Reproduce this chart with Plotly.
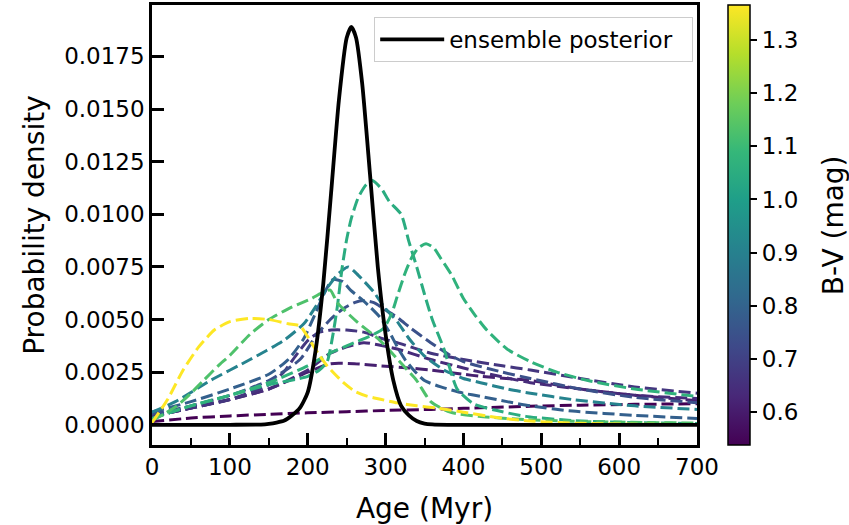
import plotly.graph_objects as go
from plotly.colors import sample_colorscale

# ---------------- data ----------------
BV_MIN, BV_MAX = 0.538, 1.366

ens_age = [0, 100, 140, 150, 160, 170, 180, 190, 200, 210, 220, 230, 240, 250, 256, 262,
           270, 280, 290, 300, 310, 320, 330, 340, 350, 360, 380, 400, 700]
ens_pdf = [0, 0, 0.00001, 0.00004, 0.0001, 0.0002, 0.00045, 0.0008, 0.00154, 0.0035, 0.0067,
           0.0110, 0.0154, 0.01837, 0.0189, 0.0184, 0.0162, 0.0119, 0.0075, 0.0043, 0.0021,
           0.0009, 0.00045, 0.00018, 0.00006, 0.00002, 0.0, 0.0, 0.0]

star_bv = [0.538, 0.61, 0.64, 0.67, 0.745, 0.79, 0.91, 1.05, 1.07, 1.13, 1.366]

k_age = [0, 50, 100, 150, 200, 250, 300, 358, 400, 486, 550, 620, 700]
k_pdf = [0.00015, 0.00032, 0.00042, 0.0005, 0.00057, 0.00062, 0.00068, 0.00073, 0.00078,
         0.00088, 0.00093, 0.00097, 0.0010]

j_age = [0, 50, 100, 150, 200, 229, 260, 293, 330, 358, 400, 422, 486, 550, 620, 700]
j_pdf = [0.0004, 0.0008, 0.0012, 0.0017, 0.0025, 0.0029, 0.0029, 0.0028, 0.0027, 0.0026,
         0.0024, 0.0023, 0.0021, 0.0017, 0.0014, 0.00115]

i_age = [0, 50, 100, 150, 200, 229, 250, 272, 290, 315, 358, 400, 422, 486, 550, 620, 700]
i_pdf = [0.0004, 0.0008, 0.0012, 0.0017, 0.0026, 0.0034, 0.0037, 0.0039, 0.0038, 0.0036,
         0.0031, 0.0027, 0.0025, 0.0020, 0.0017, 0.0014, 0.00125]

h_age = [0, 50, 100, 150, 169, 185, 200, 215, 230, 250, 272, 295, 315, 358, 400, 450, 486,
         550, 620, 700]
h_pdf = [0.0004, 0.0008, 0.0012, 0.0019, 0.0025, 0.0033, 0.0040, 0.0044, 0.0045, 0.0045,
         0.0044, 0.0041, 0.0039, 0.0034, 0.0031, 0.0028, 0.0026, 0.0022, 0.0018, 0.0015]

g_age = [0, 50, 100, 150, 190, 212, 229, 245, 260, 272, 285, 298, 315, 332, 358, 383, 400,
         450, 486, 550, 620, 700]
g_pdf = [0.0005, 0.0009, 0.0014, 0.0021, 0.0031, 0.0043, 0.0050, 0.0055, 0.0058, 0.0059,
         0.0058, 0.0055, 0.0051, 0.0046, 0.0039, 0.0033, 0.0030, 0.0025, 0.0022, 0.0017,
         0.0013, 0.00105]

f_age = [0, 50, 100, 150, 175, 195, 210, 222, 232, 245, 255, 268, 280, 293, 305, 315, 325,
         336, 350, 371, 400, 422, 456, 486, 540, 620, 700]
f_pdf = [0.0006, 0.0011, 0.0017, 0.0024, 0.0031, 0.0041, 0.0053, 0.0063, 0.0069, 0.0068,
         0.0064, 0.0060, 0.0056, 0.0051, 0.0044, 0.0037, 0.0031, 0.0026, 0.0021, 0.0018,
         0.0015, 0.00135, 0.0011, 0.0009, 0.00065, 0.00045, 0.0003]

e_age = [0, 30, 75, 126, 169, 195, 210, 225, 240, 252, 265, 285, 298, 315, 330, 349, 375,
         400, 422, 456, 486, 540, 620, 700]
e_pdf = [0.0006, 0.0011, 0.0021, 0.0031, 0.0040, 0.0048, 0.0056, 0.0065, 0.0072, 0.0075,
         0.0071, 0.0063, 0.0056, 0.0049, 0.0041, 0.0033, 0.0026, 0.0022, 0.0020, 0.0017,
         0.0015, 0.0012, 0.0009, 0.00073]

b_age = [0, 50, 100, 150, 200, 215, 225, 232, 238, 244, 250, 256, 265, 275, 283, 295, 305,
         320, 330, 340, 350, 360, 375, 392, 413, 440, 480, 540, 620, 700]
b_pdf = [0.0003, 0.0009, 0.0014, 0.0019, 0.0023, 0.0026, 0.0030, 0.0042, 0.0056, 0.0074,
         0.0088, 0.0098, 0.0108, 0.0114, 0.0116, 0.0112, 0.0106, 0.0100, 0.0087, 0.0075,
         0.0062, 0.0050, 0.0036, 0.0017, 0.0010, 0.0007, 0.0004, 0.0002, 0.0001, 0.00006]

c_age = [0, 50, 100, 150, 200, 229, 260, 285, 298, 308, 315, 325, 333, 342, 352, 362, 371,
         385, 400, 415, 430, 456, 486, 520, 560, 620, 700]
c_pdf = [0.0003, 0.0009, 0.0014, 0.0020, 0.0028, 0.0034, 0.0039, 0.0043, 0.0046, 0.0053,
         0.0061, 0.0072, 0.0079, 0.0084, 0.0086, 0.0084, 0.0079, 0.0071, 0.0060, 0.0052,
         0.0045, 0.0036, 0.0030, 0.0025, 0.0021, 0.0017, 0.00135]

d_age = [0, 15, 32, 50, 66, 85, 100, 126, 150, 180, 205, 220, 229, 238, 263, 293, 323, 340,
         358, 383, 420, 480, 560, 700]
d_pdf = [0.0002, 0.0005, 0.0009, 0.0015, 0.0021, 0.0028, 0.0033, 0.0043, 0.0050, 0.0056,
         0.0060, 0.0063, 0.0064, 0.0058, 0.0049, 0.0040, 0.0028, 0.0021, 0.0011, 0.0006,
         0.0004, 0.00025, 0.00015, 0.00008]

a_age = [0, 20, 40, 60, 80, 100, 125, 150, 175, 190, 203, 215, 225, 235, 246, 260, 276, 295,
         315, 340, 365, 400, 445, 490, 550, 620, 700]
a_pdf = [0.0001, 0.0012, 0.0026, 0.0037, 0.0045, 0.0049, 0.00505, 0.0050, 0.0048, 0.0047,
         0.0040, 0.0033, 0.0028, 0.0024, 0.0020, 0.0016, 0.00136, 0.0012, 0.00104, 0.0009,
         0.0008, 0.0006, 0.00033, 0.00017, 0.00007, 0.00003, 0.00001]

star_ages = [k_age, j_age, i_age, h_age, g_age, f_age, e_age, b_age, c_age, d_age, a_age]
star_pdfs = [k_pdf, j_pdf, i_pdf, h_pdf, g_pdf, f_pdf, e_pdf, b_pdf, c_pdf, d_pdf, a_pdf]

x_ticks = [0, 100, 200, 300, 400, 500, 600, 700]
cb_ticks = [0.6, 0.7, 0.8, 0.9, 1.0, 1.1, 1.2, 1.3]

# ---------------- figure ----------------
FONT = "DejaVu Sans"
fig = go.Figure()

for bv, ages, pdf in zip(star_bv, star_ages, star_pdfs):
    t = (bv - BV_MIN) / (BV_MAX - BV_MIN)
    col = sample_colorscale("Viridis", [t])[0]
    fig.add_trace(go.Scatter(
        x=ages, y=pdf, mode="lines", showlegend=False, hoverinfo="skip",
        line=dict(color=col, width=3, dash="12px,5px", shape="spline", smoothing=0.6)))

fig.add_trace(go.Scatter(
    x=ens_age, y=ens_pdf, mode="lines", name="ensemble posterior\u00a0\u00a0",
    line=dict(color="black", width=3.8, shape="spline", smoothing=0.6)))

# colour bar carrier
fig.add_trace(go.Scatter(
    x=[None], y=[None], mode="markers", showlegend=False, hoverinfo="skip",
    marker=dict(color=[BV_MIN], colorscale="Viridis", cmin=BV_MIN, cmax=BV_MAX,
                showscale=True,
                colorbar=dict(x=1.057, xanchor="left", xpad=0, y=0.5, yanchor="middle",
                              ypad=0, len=1.0, lenmode="fraction", thickness=22,
                              outlinewidth=1.5, outlinecolor="black",
                              ticks="outside", ticklen=7, tickwidth=2, tickcolor="black",
                              tickvals=cb_ticks, ticktext=[f"{v:.1f}" for v in cb_ticks],
                              tickfont=dict(family=FONT, size=23, color="black")))))

fig.add_annotation(text="B-V (mag)", xref="paper", yref="paper", x=1.25, y=0.5,
                   xanchor="center", yanchor="middle", textangle=-90, showarrow=False,
                   font=dict(family=FONT, size=28, color="black"))

axis_common = dict(showline=True, linecolor="black", linewidth=2.5, mirror=True,
                   ticks="inside", ticklen=12, tickwidth=2.5, tickcolor="black",
                   showgrid=False, zeroline=False,
                   tickfont=dict(family=FONT, size=23, color="black"))

fig.update_xaxes(range=[0, 700], tickvals=x_ticks,
                 minor=dict(dtick=50, tick0=0, ticks="inside", ticklen=7, tickwidth=2,
                            tickcolor="black", showgrid=False),
                 title=dict(text="Age (Myr)", standoff=22,
                            font=dict(family=FONT, size=28, color="black")),
                 **axis_common)
fig.update_yaxes(range=[-0.00096, 0.01994], tick0=0, dtick=0.0025, tickformat=".4f",
                 title=dict(text="Probability density", standoff=12,
                            font=dict(family=FONT, size=28, color="black")),
                 **axis_common)

fig.update_layout(
    width=849, height=525,
    margin=dict(l=152, r=152, t=5, b=80, autoexpand=False),
    plot_bgcolor="white", paper_bgcolor="white",
    font=dict(family=FONT, size=22, color="black"),
    legend=dict(x=0.993, y=0.973, xanchor="right", yanchor="top", itemwidth=64,
                bgcolor="rgba(255,255,255,0.8)", bordercolor="#cccccc", borderwidth=1,
                font=dict(family=FONT, size=23, color="black")),
)

fig.write_html("out.html")
